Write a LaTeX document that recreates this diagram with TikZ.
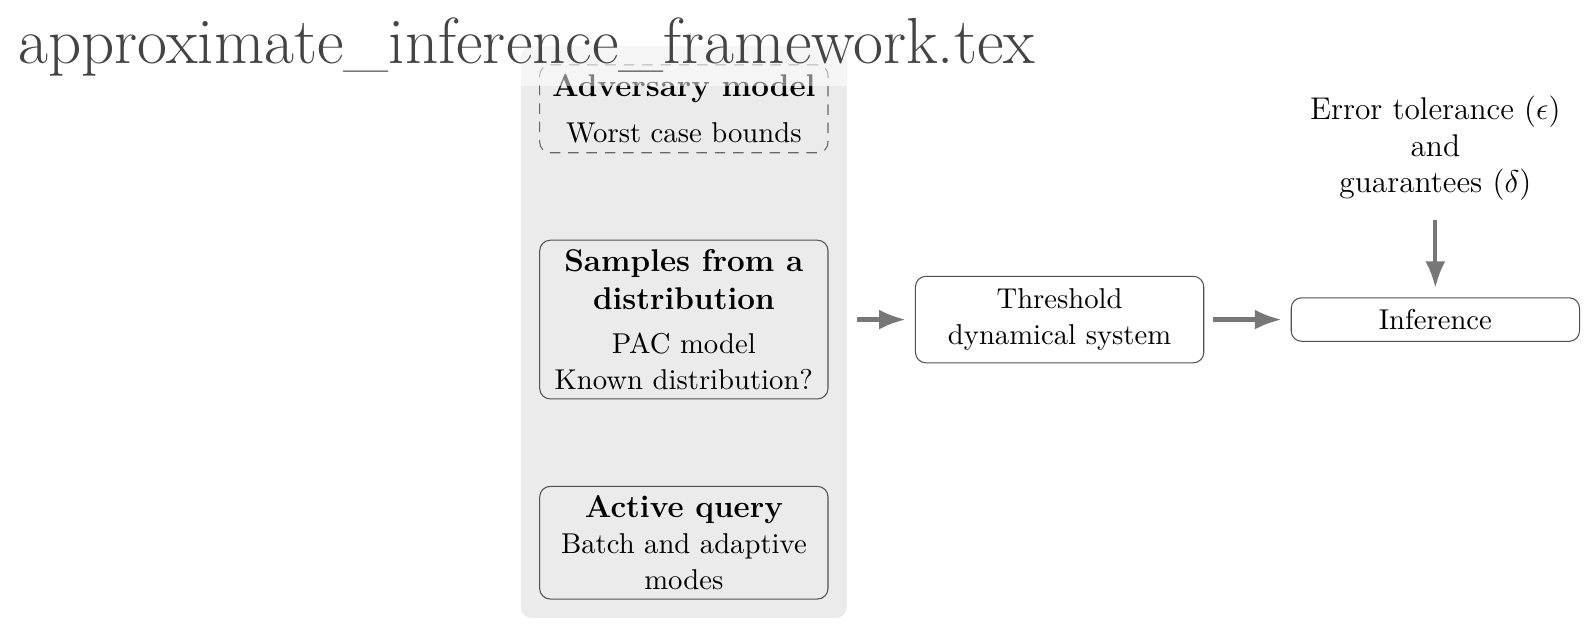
\documentclass[tikz,border=0pt,11pt]{standalone}
\usepackage{xcolor}
\usepackage{tikz}
\usetikzlibrary{positioning,fit,backgrounds,arrows.meta}
\usepackage{amsmath}
\definecolor{panelgray}{HTML}{EBEBEB}
\definecolor{edgegray}{HTML}{505050}
\definecolor{arrowgray}{HTML}{777777}
\definecolor{titlegray}{HTML}{444444}
\newcommand{\boxhead}[1]{{\large\bfseries #1}}

\begin{document}
\begin{tikzpicture}[node distance=1.16cm,>={Latex},
  box/.style={draw=edgegray,rounded corners,minimum width=3.87cm,align=center},
  arrow/.style={->,line width=1.6pt,color=arrowgray,shorten >=3.5pt,shorten <=3.5pt}]
\useasboundingbox (-9.18,-4.09) rectangle (12.11,4.29);
\node[box] (samp) {\boxhead{Samples from a}\\[1pt]\boxhead{distribution}\\[3pt]PAC model\\Known distribution?};
\node[box,draw=black!60,dash pattern=on 4pt off 3pt,above=of samp] (adv) {\boxhead{Adversary model}\\[4pt]Worst case bounds};
\node[box,below=of samp] (act) {\boxhead{Active query}\\Batch and adaptive\\modes};
\node[box,fill=white,inner ysep=4.8pt,right=of samp] (thr) {Threshold\\dynamical system};
\node[box,fill=white,inner ysep=4.4pt,right=of thr] (inf) {Inference};
\node[align=center,font=\large,above=of inf] (err) {Error tolerance ($\epsilon$)\\and\\guarantees ($\delta$)};
\begin{scope}[on background layer]
\node[fit=(adv)(samp)(act),fill=panelgray,rounded corners,inner sep=7pt] (panel) {};
\end{scope}
\draw[arrow] (samp -| panel.east) -- (thr);
\draw[arrow] (thr) -- (inf);
\draw[arrow] (err) -- (inf);
\node[anchor=base west,font=\Huge,text=titlegray,fill=white,fill opacity=0.5,text opacity=1,inner sep=4pt] (title) at (-9.08,3.44) {approximate\_inference\_framework.tex};
\end{tikzpicture}
\end{document}
